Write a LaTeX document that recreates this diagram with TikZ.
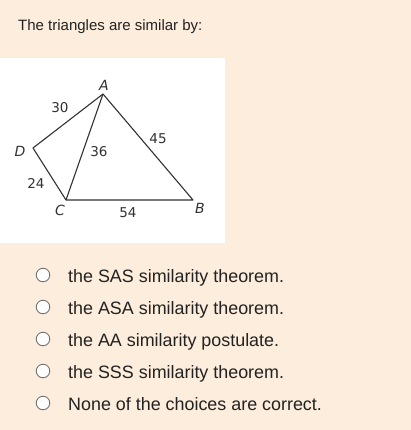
\documentclass[tikz,border=0pt]{standalone}
\usepackage{fontspec}
\setmainfont{Liberation Sans}
\newfontfamily\lblfont{DejaVu Sans}
\definecolor{bgpeach}{RGB}{253,237,220}
\definecolor{txt}{RGB}{34,34,34}
\definecolor{ln}{RGB}{50,50,50}
\begin{document}
\begin{tikzpicture}[x=1pt,y=-1pt,
  lbl/.style={font=\lblfont\fontsize{14}{16}\selectfont\itshape,text=ln,inner sep=0pt},
  num/.style={font=\lblfont\fontsize{13.5}{15}\selectfont,text=ln,inner sep=0pt},
  seg/.style={draw=ln,line width=1.1pt},
  radio/.style={circle,draw=gray!90!black,fill=white,line width=0.9pt,minimum size=13.5pt,inner sep=0pt},
  opt/.style={anchor=base west,font=\fontsize{17.9}{21}\selectfont,text=txt,inner sep=0pt}]
\fill[bgpeach] (0,0) rectangle (411,430);
\useasboundingbox (0,0) rectangle (411,430);
\node[anchor=west,font=\fontsize{15}{18}\selectfont,text=txt,inner sep=0pt] (title) at (18,27) {The triangles are similar by:};
\fill[white] (0,58) rectangle (225,243);
\coordinate (A) at (103,94);
\coordinate (D) at (33,148);
\coordinate (C) at (66,200);
\coordinate (B) at (193,200);
\draw[seg,line join=round] (A) -- (D) -- (C) -- (B) -- cycle;
\draw[seg] (A) -- (C);
\node[lbl] (lA) at (104,85) {A};
\node[lbl] (lD) at (20,151) {D};
\node[lbl] (lC) at (60,210) {C};
\node[lbl] (lB) at (200,208) {B};
\node[num] (n30) at (60,108) {30};
\node[num] (n45) at (158,139) {45};
\node[num] (n36) at (99,152) {36};
\node[num] (n24) at (36,183) {24};
\node[num] (n54) at (128,213) {54};
\foreach \y/\t [count=\i] in {275/{the SAS similarity theorem.},307/{the ASA similarity theorem.},339/{the AA similarity postulate.},371/{the SSS similarity theorem.},403/{None of the choices are correct.}}{
  \node[radio] (r\i) at (43,\y) {};
  \node[opt] (o\i) at (68,\y+7.5) {\t};
}
\end{tikzpicture}
\end{document}
